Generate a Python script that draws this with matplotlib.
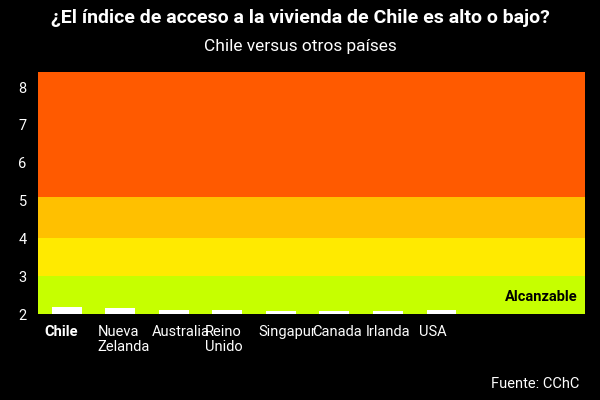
import matplotlib
matplotlib.use("Agg")
import matplotlib.pyplot as plt

countries = ["Chile", "Nueva\nZelanda", "Australia", "Reino\nUnido", "Singapur", "Canada", "Irlanda", "USA"]
values = [2.19, 2.15, 2.11, 2.11, 2.08, 2.07, 2.07, 2.10]
band_edges = [2, 3, 4, 5.1, 8.4]
band_colors = ["#c6ff00", "#ffea00", "#ffc000", "#ff5a00"]
yticks = [2, 3, 4, 5, 6, 7, 8]

plt.rcParams["font.family"] = "Roboto"
fig = plt.figure(figsize=(6, 4), dpi=100, facecolor="black")
ax = fig.add_axes([0.063, 0.215, 0.912, 0.605], facecolor="black")
for lo, hi, c in zip(band_edges[:-1], band_edges[1:], band_colors):
    ax.axhspan(lo, hi, color=c, zorder=0, lw=0)
x = list(range(len(countries)))
ax.bar(x, [v - 2 for v in values], bottom=2, width=0.56, color="white", zorder=2)
ax.set_xlim(-0.54, 9.68)
ax.set_ylim(2, 8.4)
ax.set_yticks(yticks)
ax.set_xticks([xi - 0.42 for xi in x])
ax.set_xticklabels(countries, ha="left", va="top", linespacing=1.1)
ax.get_xticklabels()[0].set_fontweight("bold")
ax.tick_params(colors="white", labelsize=10.5, length=0, pad=8)
for s in ax.spines.values():
    s.set_visible(False)
ax.text(9.55, 2.45, "Alcanzable", ha="right", va="center", fontsize=10.5, fontweight="bold", color="black")
fig.text(0.5, 0.955, "¿El índice de acceso a la vivienda de Chile es alto o bajo?", ha="center", va="center",
         color="white", fontsize=14, fontweight="bold")
fig.text(0.5, 0.885, "Chile versus otros países", ha="center", va="center", color="white", fontsize=12.5)
fig.text(0.965, 0.04, "Fuente: CChC", ha="right", va="center", color="white", fontsize=10.5)
fig.savefig("out.png", dpi=100, facecolor="black")
